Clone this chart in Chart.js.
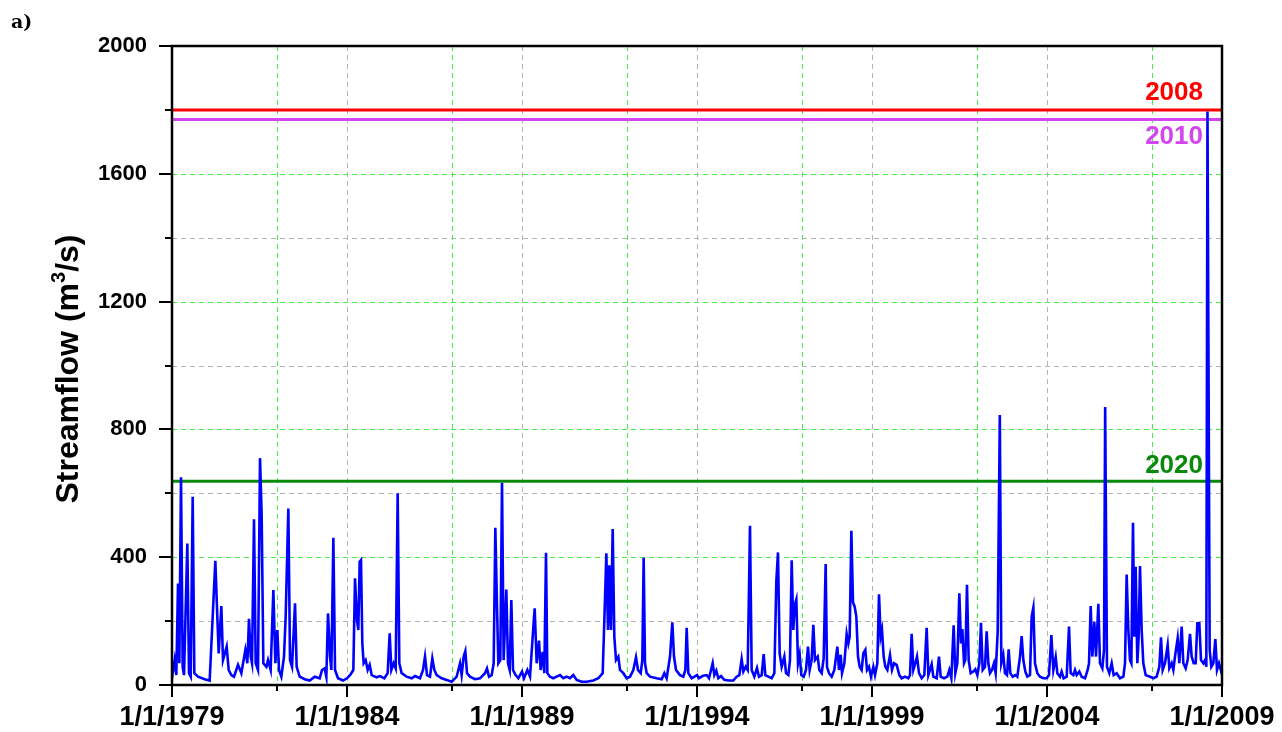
<!DOCTYPE html>
<html>
<head>
<meta charset="utf-8">
<script src="https://cdn.jsdelivr.net/npm/chart.js@4.4.1/dist/chart.umd.min.js"></script>
<style>
  body { margin: 0; background: #fff; }
  canvas { display: block; }
</style>
</head>
<body>
<canvas id="flowChart" width="1282" height="732"></canvas>
<script>
// Axis ticks
const xMajorTicks = [1979, 1984, 1989, 1994, 1999, 2004, 2009];
const xMinorTicks = [1982, 1987, 1992, 1997, 2002, 2007];
const yMajorTicks = [0, 400, 800, 1200, 1600, 2000];
const yMinorTicks = [200, 600, 1000, 1400, 1800];

// Threshold lines (label, value, colour)
const levelNames = ['2008', '2010', '2020'];
const levelValues = [1800, 1770, 638];
const levelColors = ['#ff0000', '#d444f0', '#0a8a0a'];

// Streamflow readings [decimal year, m3/s]
const flow1979 = [[1979.000,21],[1979.076,78],[1979.124,31],[1979.172,318],[1979.210,68],[1979.257,650],[1979.305,57],[1979.343,31],[1979.438,443],[1979.486,37],[1979.534,26],[1979.591,589],[1979.638,37],[1979.743,26],[1979.934,18],[1980.076,14],[1980.238,389],[1980.295,214],[1980.334,99],[1980.410,247],[1980.457,78],[1980.562,120],[1980.619,47],[1980.696,31],[1980.772,26],[1980.886,63],[1980.981,37],[1981.096,110],[1981.153,68],[1981.200,207],[1981.248,89],[1981.286,68],[1981.343,519],[1981.391,68],[1981.457,47],[1981.515,710],[1981.562,530],[1981.610,68],[1981.696,57],[1981.743,78],[1981.819,47],[1981.896,297],[1981.953,68],[1982.010,172],[1982.058,47],[1982.124,26],[1982.200,89],[1982.248,214],[1982.324,552],[1982.372,78],[1982.429,57],[1982.515,256],[1982.562,57],[1982.648,26],[1982.791,18],[1982.934,14],[1983.077,26],[1983.220,21],[1983.286,47],[1983.362,52],[1983.410,26],[1983.457,224],[1983.515,89],[1983.553,47],[1983.610,461],[1983.658,47],[1983.743,21],[1983.886,14]];
const flow1984 = [[1984.000,21],[1984.086,31],[1984.181,47],[1984.229,334],[1984.286,203],[1984.324,172],[1984.362,386],[1984.400,391],[1984.438,130],[1984.476,68],[1984.533,78],[1984.591,47],[1984.648,63],[1984.705,31],[1984.848,24],[1984.943,28],[1985.067,21],[1985.162,37],[1985.219,162],[1985.267,47],[1985.333,68],[1985.391,52],[1985.448,600],[1985.495,68],[1985.562,37],[1985.705,26],[1985.848,21],[1985.943,28],[1986.086,21],[1986.172,47],[1986.229,89],[1986.286,31],[1986.371,26],[1986.438,83],[1986.495,47],[1986.562,31],[1986.705,21],[1986.848,16],[1986.991,10],[1987.133,26],[1987.229,68],[1987.276,31],[1987.333,89],[1987.381,106],[1987.429,37],[1987.514,26],[1987.657,18],[1987.800,21],[1987.943,37],[1988.000,52],[1988.057,26],[1988.133,31],[1988.191,68],[1988.238,492],[1988.286,245],[1988.324,68],[1988.381,78],[1988.429,633],[1988.476,78],[1988.552,299],[1988.600,68],[1988.648,47],[1988.695,266],[1988.743,47],[1988.819,31],[1988.895,21]];
const flow1989 = [[1989.000,42],[1989.057,21],[1989.153,47],[1989.229,26],[1989.305,151],[1989.362,240],[1989.419,68],[1989.486,139],[1989.533,47],[1989.591,104],[1989.638,37],[1989.686,414],[1989.724,37],[1989.800,26],[1989.895,21],[1989.991,26],[1990.086,31],[1990.181,21],[1990.276,26],[1990.371,21],[1990.467,31],[1990.562,16],[1990.705,10],[1990.848,10],[1991.038,14],[1991.181,21],[1991.305,37],[1991.362,235],[1991.410,412],[1991.457,172],[1991.495,375],[1991.543,172],[1991.591,488],[1991.638,151],[1991.686,78],[1991.752,89],[1991.800,47],[1991.895,37],[1991.991,21],[1992.086,26],[1992.181,47],[1992.257,87],[1992.314,47],[1992.391,37],[1992.438,78],[1992.476,398],[1992.514,68],[1992.562,37],[1992.657,26],[1992.848,21],[1992.991,18],[1993.067,37],[1993.133,21],[1993.229,89],[1993.295,196],[1993.343,89],[1993.400,47],[1993.514,31],[1993.610,26],[1993.667,47],[1993.705,179],[1993.752,37],[1993.848,21]];
const flow1994 = [[1994.000,31],[1994.057,21],[1994.153,28],[1994.276,31],[1994.343,21],[1994.448,68],[1994.495,31],[1994.552,45],[1994.610,21],[1994.686,28],[1994.781,16],[1994.895,14],[1995.038,14],[1995.133,26],[1995.210,31],[1995.276,81],[1995.324,42],[1995.391,57],[1995.448,47],[1995.514,498],[1995.562,47],[1995.638,26],[1995.714,53],[1995.771,26],[1995.848,31],[1995.905,97],[1995.952,31],[1996.038,26],[1996.133,21],[1996.210,37],[1996.267,325],[1996.314,415],[1996.362,99],[1996.419,57],[1996.495,89],[1996.543,37],[1996.610,31],[1996.657,78],[1996.705,390],[1996.752,172],[1996.791,250],[1996.838,268],[1996.886,68],[1996.933,96],[1996.981,31],[1997.048,26],[1997.114,47],[1997.171,120],[1997.219,47],[1997.276,78],[1997.324,188],[1997.371,78],[1997.448,89],[1997.495,47],[1997.562,37],[1997.619,83],[1997.676,379],[1997.714,57],[1997.771,37],[1997.848,26],[1997.924,47],[1998.010,120],[1998.057,47],[1998.105,94],[1998.143,37],[1998.210,68],[1998.276,160],[1998.324,130],[1998.362,151],[1998.410,483],[1998.457,258],[1998.505,245],[1998.552,214],[1998.600,89],[1998.648,57],[1998.705,47],[1998.752,99],[1998.810,110],[1998.857,47],[1998.914,57]];
const flow1999 = [[1998.971,26],[1999.038,57],[1999.086,31],[1999.152,68],[1999.200,284],[1999.248,151],[1999.286,172],[1999.333,89],[1999.381,57],[1999.438,47],[1999.514,94],[1999.571,47],[1999.629,68],[1999.705,63],[1999.781,31],[1999.848,21],[1999.943,26],[2000.038,21],[2000.086,31],[2000.133,160],[2000.181,47],[2000.238,68],[2000.286,89],[2000.343,37],[2000.419,21],[2000.495,31],[2000.562,179],[2000.610,31],[2000.657,47],[2000.705,65],[2000.752,26],[2000.848,21],[2000.914,89],[2000.962,26],[2001.057,21],[2001.152,26],[2001.210,47],[2001.267,21],[2001.333,187],[2001.381,37],[2001.438,68],[2001.495,287],[2001.543,130],[2001.581,175],[2001.629,68],[2001.667,78],[2001.714,314],[2001.762,78],[2001.819,37],[2001.895,42],[2001.952,49],[2002.010,31],[2002.067,68],[2002.114,195],[2002.162,47],[2002.229,57],[2002.276,168],[2002.324,68],[2002.371,37],[2002.429,47],[2002.486,68],[2002.533,37],[2002.591,167],[2002.652,845],[2002.695,68],[2002.752,94],[2002.800,37],[2002.857,31],[2002.905,112],[2002.952,37],[2003.019,26],[2003.095,31],[2003.152,26],[2003.229,89],[2003.276,153],[2003.324,78],[2003.381,42],[2003.438,26],[2003.514,31],[2003.562,214],[2003.610,242],[2003.657,68],[2003.724,37],[2003.800,26],[2003.895,21]];
const flow2004 = [[2003.991,21],[2004.057,31],[2004.124,156],[2004.181,47],[2004.248,87],[2004.295,37],[2004.371,26],[2004.419,42],[2004.476,21],[2004.562,26],[2004.629,183],[2004.676,37],[2004.752,31],[2004.800,47],[2004.848,31],[2004.924,42],[2004.991,26],[2005.086,21],[2005.162,47],[2005.200,68],[2005.248,247],[2005.295,89],[2005.352,198],[2005.400,89],[2005.467,254],[2005.514,68],[2005.581,52],[2005.629,110],[2005.662,870],[2005.714,57],[2005.781,37],[2005.848,68],[2005.905,31],[2005.990,37],[2006.086,21],[2006.181,26],[2006.229,68],[2006.276,346],[2006.324,172],[2006.371,78],[2006.410,68],[2006.457,508],[2006.495,151],[2006.533,370],[2006.581,68],[2006.619,151],[2006.657,372],[2006.705,172],[2006.752,68],[2006.819,31],[2006.943,26],[2007.038,21],[2007.133,26],[2007.210,57],[2007.257,149],[2007.305,47],[2007.371,68],[2007.448,125],[2007.495,52],[2007.562,68],[2007.610,47],[2007.657,89],[2007.733,146],[2007.781,68],[2007.848,183],[2007.895,68],[2007.962,52],[2008.019,78],[2008.086,160],[2008.133,89],[2008.191,68],[2008.248,68],[2008.295,193],[2008.352,193],[2008.400,78],[2008.467,68],[2008.514,78],[2008.552,57],[2008.585,1795],[2008.648,110],[2008.695,57],[2008.752,68],[2008.810,144],[2008.857,47],[2008.914,68],[2008.990,37],[2009.000,42]];

const flowData = [].concat(flow1979, flow1984, flow1989, flow1994, flow1999, flow2004)
  .map(p => ({ x: p[0], y: p[1] }));

const GRID_GREEN = '#44ee44';
const GRID_GRAY = '#b4b4b4';

// Threshold datasets
const levelSets = levelValues.map((v, i) => ({
  label: levelNames[i],
  data: [{ x: 1979, y: v }, { x: 2009, y: v }],
  borderColor: levelColors[i],
  borderWidth: 3,
  pointRadius: 0
}));

// Dashed grid, drawn under the data
const gridPlugin = {
  id: 'dashGrid',
  beforeDatasetsDraw(chart) {
    const { ctx, chartArea: a, scales: { x, y } } = chart;
    ctx.save();
    ctx.lineWidth = 1;
    ctx.setLineDash([5, 4]);
    const vline = (v, col) => {
      const px = Math.round(x.getPixelForValue(v)) + 0.5;
      ctx.strokeStyle = col;
      ctx.beginPath(); ctx.moveTo(px, a.top); ctx.lineTo(px, a.bottom); ctx.stroke();
    };
    const hline = (v, col) => {
      const py = Math.round(y.getPixelForValue(v)) + 0.5;
      ctx.strokeStyle = col;
      ctx.beginPath(); ctx.moveTo(a.left, py); ctx.lineTo(a.right, py); ctx.stroke();
    };
    xMajorTicks.slice(1, -1).forEach(v => vline(v, GRID_GRAY));
    xMinorTicks.forEach(v => vline(v, GRID_GREEN));
    yMinorTicks.forEach(v => hline(v, GRID_GRAY));
    yMajorTicks.slice(1, -1).forEach(v => hline(v, GRID_GREEN));
    ctx.restore();
  }
};

// Frame, tick marks, titles, threshold labels
const decorPlugin = {
  id: 'decor',
  afterDraw(chart) {
    const { ctx, chartArea: a, scales: { x, y } } = chart;
    ctx.save();
    ctx.strokeStyle = '#000';
    ctx.lineWidth = 2;
    xMajorTicks.forEach(v => {
      const px = Math.round(x.getPixelForValue(v));
      ctx.beginPath(); ctx.moveTo(px, a.bottom); ctx.lineTo(px, a.bottom + 12); ctx.stroke();
    });
    xMinorTicks.forEach(v => {
      const px = Math.round(x.getPixelForValue(v));
      ctx.beginPath(); ctx.moveTo(px, a.bottom); ctx.lineTo(px, a.bottom + 6); ctx.stroke();
    });
    yMajorTicks.forEach(v => {
      const py = Math.round(y.getPixelForValue(v));
      ctx.beginPath(); ctx.moveTo(a.left, py); ctx.lineTo(a.left - 13, py); ctx.stroke();
    });
    yMinorTicks.forEach(v => {
      const py = Math.round(y.getPixelForValue(v));
      ctx.beginPath(); ctx.moveTo(a.left, py); ctx.lineTo(a.left - 7, py); ctx.stroke();
    });
    ctx.lineWidth = 2.5;
    ctx.strokeRect(a.left, a.top, a.right - a.left, a.bottom - a.top);

    // threshold labels
    ctx.font = 'bold 26px "Liberation Sans"';
    ctx.textAlign = 'right';
    ctx.textBaseline = 'alphabetic';
    const offsets = [-10, 25, -8];
    levelValues.forEach((v, i) => {
      ctx.fillStyle = levelColors[i];
      ctx.fillText(levelNames[i], a.right - 19, y.getPixelForValue(v) + offsets[i]);
    });

    // y axis title with superscript
    ctx.translate(69, 369);
    ctx.rotate(-Math.PI / 2);
    ctx.fillStyle = '#000';
    ctx.textAlign = 'left';
    ctx.textBaseline = 'middle';
    const big = 'bold 32px "Liberation Sans"', small = 'bold 20px "Liberation Sans"';
    ctx.font = big;
    const w1 = ctx.measureText('Streamflow (m').width;
    const w3 = ctx.measureText('/s)').width;
    ctx.font = small;
    const w2 = ctx.measureText('3').width;
    const sx = -(w1 + w2 + w3) / 2;
    ctx.font = big;
    ctx.fillText('Streamflow (m', sx, 0);
    ctx.font = small;
    ctx.fillText('3', sx + w1, -10);
    ctx.font = big;
    ctx.fillText('/s)', sx + w1 + w2, 0);
    ctx.restore();

    ctx.save();
    ctx.font = 'bold 19px "DejaVu Serif"';
    ctx.fillStyle = '#000';
    ctx.textBaseline = 'alphabetic';
    ctx.fillText('a)', 11, 28);
    ctx.restore();
  }
};

new Chart(document.getElementById('flowChart'), {
  type: 'line',
  data: {
    datasets: [{
      label: 'Streamflow',
      data: flowData,
      borderColor: '#0000ff',
      borderWidth: 2.6,
      pointRadius: 0,
      tension: 0
    }].concat(levelSets)
  },
  options: {
    responsive: false,
    animation: false,
    layout: { padding: { top: 46, right: 60, left: 0, bottom: 0 } },
    plugins: { legend: { display: false }, tooltip: { enabled: false } },
    scales: {
      x: {
        type: 'linear',
        min: 1979,
        max: 2009,
        afterBuildTicks: s => {
          s.ticks = xMajorTicks.map(v => ({ value: v }));
        },
        afterFit: s => {
          s.height = 47;
          s.paddingLeft = 0;
          s.paddingRight = 0;
        },
        ticks: {
          autoSkip: false,
          maxRotation: 0,
          padding: 16,
          color: '#000',
          font: { family: 'Liberation Sans', size: 27, weight: 'bold' },
          callback: v => '1/1/' + v
        },
        grid: { display: false, drawTicks: false },
        border: { display: false }
      },
      y: {
        min: 0,
        max: 2000,
        afterFit: s => {
          s.width = 172;
          s.paddingTop = 0;
          s.paddingBottom = 0;
        },
        ticks: {
          stepSize: 400,
          padding: 25,
          color: '#000',
          font: { family: 'Liberation Sans', size: 22, weight: 'bold' },
          callback: v => String(v)
        },
        grid: { display: false, drawTicks: false },
        border: { display: false }
      }
    }
  },
  plugins: [gridPlugin, decorPlugin]
});
</script>
</body>
</html>
